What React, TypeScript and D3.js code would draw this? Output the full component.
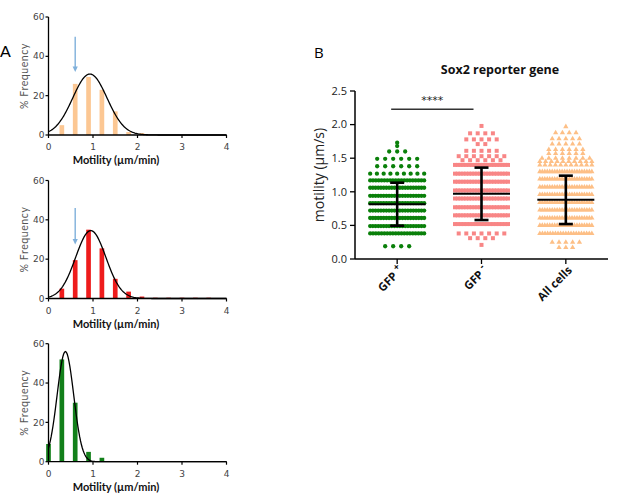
import React from 'react';
import * as d3 from 'd3';

// ---- panel A: frequency histograms (% of cells per motility bin, µm/min)
const histTicksX = [0, 1, 2, 3, 4];
const histTicksY = [0, 20, 40, 60];

const allBins = [0.3, 0.6, 0.9, 1.2, 1.5, 1.8, 2.1];
const allFreq = [5, 26, 29.5, 23, 12, 1.5, 1];
const negBins = [0.3, 0.6, 0.9, 1.2, 1.5, 1.8, 2.1, 2.4, 2.7, 3.0, 3.3, 3.6];
const negFreq = [5, 19.5, 35, 25.5, 10, 3.5, 1, 0.4, 0.4, 0.4, 0.4, 0.4];
const posBins = [0, 0.3, 0.6, 0.9, 1.2];
const posFreq = [9, 52, 30, 5, 2];

// gaussian fits: amplitude, mean, sd
const allFit = [31, 0.93, 0.386];
const negFit = [34.5, 0.95, 0.34];
const posFit = [56, 0.38, 0.186];

// arrows: motility, start freq, tip freq
const allArrow = [0.6, 50, 32];
const negArrow = [0.6, 46, 27.5];

// ---- panel B: scatter dot plot, rows of [motility µm/s, number of cells]
const categories = ['GFP +', 'GFP -', 'All cells'];
const gfpPosRows: [number, number][] = [
  [1.73, 1], [1.68, 1], [1.6, 3], [1.49, 6], [1.38, 6], [1.27, 9],
  [1.17, 20], [1.06, 21], [0.94, 21], [0.83, 21], [0.72, 21], [0.61, 21], [0.49, 21], [0.38, 20],
  [0.19, 4],
];
const gfpNegRows: [number, number][] = [
  [1.98, 1], [1.87, 4], [1.78, 5], [1.71, 2], [1.61, 5], [1.53, 7], [1.47, 6],
  [1.4, 20], [1.27, 20], [1.15, 20], [1.02, 20], [0.9, 20], [0.77, 20], [0.65, 20], [0.52, 19],
  [0.38, 7], [0.31, 4], [0.21, 1],
];
const allCellRows: [number, number][] = [
  [1.97, 1], [1.88, 4], [1.79, 5], [1.71, 5], [1.63, 6], [1.57, 6], [1.5, 8], [1.45, 10], [1.4, 11],
  [1.3, 22], [1.19, 22], [1.07, 22], [0.96, 22], [0.84, 22], [0.73, 22], [0.61, 22], [0.5, 22], [0.38, 21],
  [0.25, 5], [0.17, 3],
];
const groupMean = [0.815, 0.97, 0.88];
const groupSD = [0.32, 0.39, 0.36];
const swarmTicks = [0, 0.5, 1, 1.5, 2, 2.5];
const sigLevel = 2.23;

const W = 617;
const H = 496;
const fontB = '"Open Sans", sans-serif';

function HistPanel(props: any) {
  const { y0, bins, freq, fit, color, arrow } = props;
  const x = d3.scaleLinear().domain([0, 4]).range([48.5, 226.5]);
  const y = d3.scaleLinear().domain([0, 60]).range([y0, y0 - 118]);
  const bw = x(0.105) - x(0);
  const [amp, mu, sd] = fit;
  const fitXs = d3.range(0, 4.001, 0.02);
  const curve = d3
    .line<number>()
    .x((d) => x(d))
    .y((d) => y(amp * Math.exp(-((d - mu) ** 2) / (2 * sd * sd))))(fitXs);

  return (
    <g>
      {bins.map((b: number, i: number) => (
        <rect key={i} x={x(b) - bw / 2} y={y(freq[i])} width={bw} height={y(0) - y(freq[i])} fill={color} />
      ))}
      <path d={curve || ''} fill="none" stroke="#000" strokeWidth={1.3} />
      {arrow && (
        <g>
          <line x1={x(arrow[0])} x2={x(arrow[0])} y1={y(arrow[1])} y2={y(arrow[2]) - 4} stroke="#7fb0db" strokeWidth={1.4} />
          <path
            d={`M${x(arrow[0]) - 2.6},${y(arrow[2]) - 5.5}L${x(arrow[0]) + 2.6},${y(arrow[2]) - 5.5}L${x(arrow[0])},${y(arrow[2])}Z`}
            fill="#7fb0db"
          />
        </g>
      )}
      {/* axes */}
      <line x1={x(0)} x2={x(0)} y1={y(0)} y2={y(60)} stroke="#000" strokeWidth={1.3} />
      <line x1={x(0)} x2={x(4)} y1={y(0)} y2={y(0)} stroke="#000" strokeWidth={1.3} />
      {histTicksY.map((t) => (
        <g key={t}>
          <line x1={x(0) - 3} x2={x(0)} y1={y(t)} y2={y(t)} stroke="#000" strokeWidth={1.2} />
          <text x={x(0) - 4} y={y(t)} dy="0.35em" textAnchor="end" fontSize={9} fill="#444" fontFamily="DejaVu Sans, sans-serif">
            {t}
          </text>
        </g>
      ))}
      {histTicksX.map((t) => (
        <g key={t}>
          <line x1={x(t)} x2={x(t)} y1={y(0)} y2={y(0) + 3} stroke="#000" strokeWidth={1.2} />
          <text x={x(t)} y={y(0) + 15} textAnchor="middle" fontSize={9} fill="#444" fontFamily="DejaVu Sans, sans-serif">
            {t}
          </text>
        </g>
      ))}
      <text x={116} y={y(0) + 29} textAnchor="middle" fontSize={11} fontWeight="bold" fill="#111">
        Motility (µm/min)
      </text>
      <text
        transform={`translate(27.5,${(y(0) + y(60)) / 2}) rotate(-90)`}
        textAnchor="middle"
        fontSize={10.5}
        letterSpacing={0.6}
        fill="#555"
      >
        % Frequency
      </text>
    </g>
  );
}

function SwarmPanel() {
  const x = d3.scalePoint<string>().domain(categories).range([355, 608]).padding(0.5);
  const y = d3.scaleLinear().domain([0, 2.5]).range([259, 91]);
  const groups = [
    { rows: gfpPosRows, color: '#0a800a', shape: d3.symbolCircle, size: 14.5, maxW: 54, maxStep: 8 },
    { rows: gfpNegRows, color: '#f88686', shape: d3.symbolSquare, size: 16, maxW: 53, maxStep: 7.6 },
    { rows: allCellRows, color: '#fdbf86', shape: d3.symbolTriangle, size: 12, maxW: 52, maxStep: 6.8 },
  ];

  return (
    <g fontFamily={fontB}>
      <text x={314} y={58} fontSize={15}>B</text>
      <text x={500} y={74} textAnchor="middle" fontSize={12.5} fontWeight="bold" fill="#111">
        Sox2 reporter gene
      </text>

      {groups.map((g, gi) => {
        const cx = x(categories[gi]) as number;
        const sym = d3.symbol().type(g.shape).size(g.size)() || '';
        return (
          <g key={gi}>
            {g.rows.map(([v, n], ri) => {
              const step = n > 1 ? Math.min(g.maxStep, g.maxW / (n - 1)) : 0;
              return d3.range(n).map((i) => (
                <path
                  key={ri + '-' + i}
                  d={sym}
                  transform={`translate(${cx + (i - (n - 1) / 2) * step},${y(v)})`}
                  fill={g.color}
                />
              ));
            })}
          </g>
        );
      })}

      {/* mean ± SD */}
      {categories.map((c, i) => {
        const cx = x(c) as number;
        return (
          <g key={c} stroke="#000">
            <line x1={cx - 28.5} x2={cx + 28.5} y1={y(groupMean[i])} y2={y(groupMean[i])} strokeWidth={2} />
            <line x1={cx} x2={cx} y1={y(groupMean[i] + groupSD[i])} y2={y(groupMean[i] - groupSD[i])} strokeWidth={2.6} />
            <line x1={cx - 7} x2={cx + 7} y1={y(groupMean[i] + groupSD[i])} y2={y(groupMean[i] + groupSD[i])} strokeWidth={2.6} />
            <line x1={cx - 7} x2={cx + 7} y1={y(groupMean[i] - groupSD[i])} y2={y(groupMean[i] - groupSD[i])} strokeWidth={2.6} />
          </g>
        );
      })}

      {/* significance */}
      <line
        x1={(x(categories[0]) as number) - 6}
        x2={(x(categories[1]) as number) - 8}
        y1={y(sigLevel)}
        y2={y(sigLevel)}
        stroke="#333"
        strokeWidth={1.5}
      />
      <text
        x={((x(categories[0]) as number) + (x(categories[1]) as number)) / 2 - 7}
        y={y(sigLevel) - 5}
        textAnchor="middle"
        fontSize={11}
        fill="#222"
        fontFamily="DejaVu Sans, sans-serif"
      >
        ****
      </text>

      {/* axes */}
      <line x1={355} x2={355} y1={y(0)} y2={y(2.5)} stroke="#000" strokeWidth={1.5} />
      <line x1={355} x2={608} y1={y(0)} y2={y(0)} stroke="#000" strokeWidth={1.5} />
      {swarmTicks.map((t) => (
        <g key={t}>
          <line x1={350} x2={355} y1={y(t)} y2={y(t)} stroke="#000" strokeWidth={1.3} />
          <text x={347} y={y(t)} dy="0.35em" textAnchor="end" fontSize={11} fill="#222">
            {d3.format('.1f')(t)}
          </text>
        </g>
      ))}
      {categories.map((c) => {
        const cx = x(c) as number;
        const parts = c.split(' ');
        const sup = parts[0] === 'GFP';
        return (
          <g key={c}>
            <line x1={cx} x2={cx} y1={y(0)} y2={y(0) + 5} stroke="#000" strokeWidth={1.3} />
            <text
              transform={`translate(${cx + 7},${y(0) + 12}) rotate(-45)`}
              textAnchor="end"
              fontSize={11.5}
              fontWeight="bold"
              fill="#111"
            >
              {sup ? (
                <>
                  {parts[0] + ' '}
                  <tspan dy={-5} fontSize={9.5}>
                    {parts[1]}
                  </tspan>
                </>
              ) : (
                c
              )}
            </text>
          </g>
        );
      })}
      <text transform={`translate(324,175) rotate(-90)`} textAnchor="middle" fontSize={14} fill="#222">
        motility (µm/s)
      </text>
    </g>
  );
}

export default function App() {
  return (
    <svg
      width={W}
      height={H}
      style={{ position: 'absolute', left: 0, top: 0, background: '#fff' }}
      fontFamily="Lato, sans-serif"
    >
      <text x={0} y={57} fontSize={16}>A</text>
      <HistPanel y0={135} bins={allBins} freq={allFreq} fit={allFit} color="#fcc793" arrow={allArrow} />
      <HistPanel y0={298.5} bins={negBins} freq={negFreq} fit={negFit} color="#ee1c1c" arrow={negArrow} />
      <HistPanel y0={461.7} bins={posBins} freq={posFreq} fit={posFit} color="#12801a" />
      <SwarmPanel />
    </svg>
  );
}
